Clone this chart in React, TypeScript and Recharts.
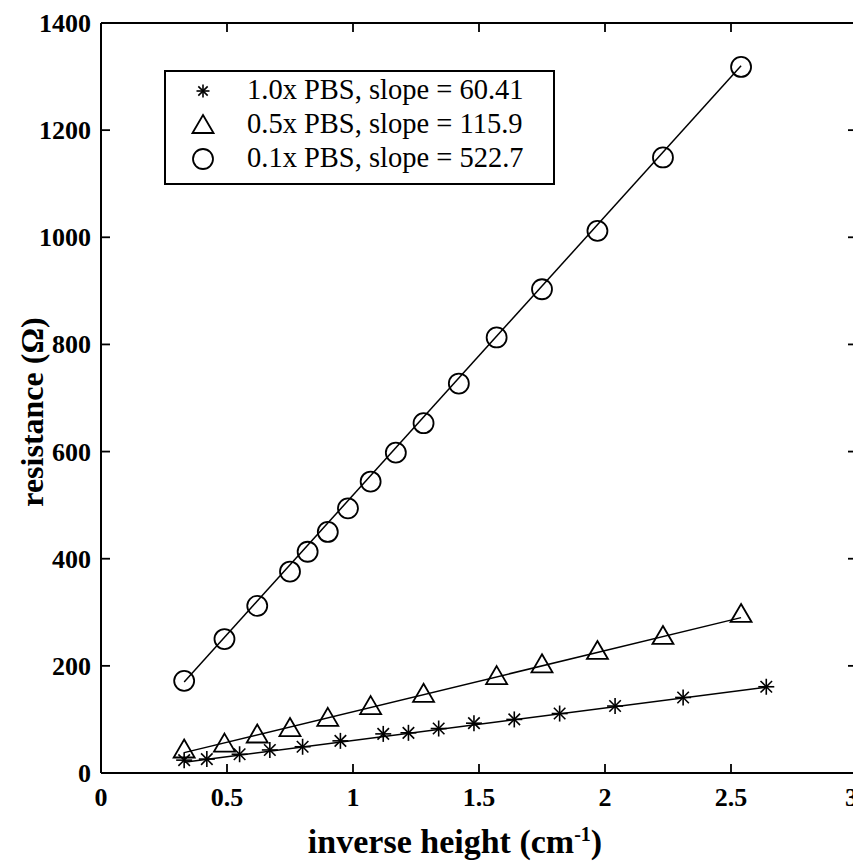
import React from "react";
import {
  ScatterChart,
  Scatter,
  XAxis,
  YAxis,
  ReferenceLine,
  Legend,
} from "recharts";

// values
const pbs10X = [0.33, 0.42, 0.55, 0.67, 0.8, 0.95, 1.12, 1.22, 1.34, 1.48, 1.64, 1.82, 2.04, 2.31, 2.64];
const pbs10Y = [24, 26, 35, 43, 49, 60, 73, 75, 83, 93, 100, 111, 125, 141, 161];

const pbs05X = [0.33, 0.49, 0.62, 0.75, 0.9, 1.07, 1.28, 1.57, 1.75, 1.97, 2.23, 2.54];
const pbs05Y = [42, 53, 70, 82, 101, 123, 146, 179, 201, 226, 254, 295];

const pbs01X = [0.33, 0.49, 0.62, 0.75, 0.82, 0.9, 0.98, 1.07, 1.17, 1.28, 1.42, 1.57, 1.75, 1.97, 2.23, 2.54];
const pbs01Y = [172, 250, 312, 376, 413, 450, 494, 544, 598, 653, 727, 813, 903, 1012, 1149, 1318];

// fitted line end points
const fit10 = [{ x: 0.33, y: 20 }, { x: 2.64, y: 160 }];
const fit05 = [{ x: 0.33, y: 38 }, { x: 2.54, y: 290 }];
const fit01 = [{ x: 0.33, y: 170 }, { x: 2.54, y: 1320 }];

const xTicks = [0, 0.5, 1, 1.5, 2, 2.5, 3];
const yTicks = [0, 200, 400, 600, 800, 1000, 1200, 1400];

const legendLabels = [
  "1.0x PBS, slope = 60.41",
  "0.5x PBS, slope = 115.9",
  "0.1x PBS, slope = 522.7",
];

const toPoints = (xs: number[], ys: number[]) => xs.map((x, i) => ({ x, y: ys[i] }));

const W = 853;
const H = 855;
const M = { top: 15, right: 4, left: 33, bottom: 60 };
const Y_AXIS_W = 60;
const X_AXIS_H = 30;
const PLOT_W = W - M.left - M.right - Y_AXIS_W;
const PLOT_H = H - M.top - M.bottom - X_AXIS_H;
const FONT = "Liberation Serif, Times New Roman, serif";
const TICK_LEN = 9;

const Star = ({ cx, cy, r = 8 }: any) => {
  const d = r * 0.72;
  return (
    <g stroke="#000" strokeWidth={1.6}>
      <line x1={cx} y1={cy - r} x2={cx} y2={cy + r} />
      <line x1={cx - r} y1={cy} x2={cx + r} y2={cy} />
      <line x1={cx - d} y1={cy - d} x2={cx + d} y2={cy + d} />
      <line x1={cx - d} y1={cy + d} x2={cx + d} y2={cy - d} />
    </g>
  );
};

const Tri = ({ cx, cy }: any) => (
  <path
    d={`M${cx},${cy - 11} L${cx + 10.5},${cy + 7} L${cx - 10.5},${cy + 7} Z`}
    fill="none"
    stroke="#000"
    strokeWidth={1.8}
  />
);

const Ring = ({ cx, cy }: any) => (
  <circle cx={cx} cy={cy} r={10} fill="none" stroke="#000" strokeWidth={1.8} />
);

const Nothing = () => <g />;

const XTick = ({ x, y, payload }: any) => {
  const v = payload.value;
  const inner = v !== 0 && v !== 3;
  const last = v === 3;
  return (
    <g>
      {inner && <line x1={x} y1={y} x2={x} y2={y - TICK_LEN} stroke="#000" strokeWidth={1.8} />}
      {inner && (
        <line x1={x} y1={y - PLOT_H} x2={x} y2={y - PLOT_H + TICK_LEN} stroke="#000" strokeWidth={1.8} />
      )}
      <text
        x={last ? x + 1 : x}
        y={y + 33}
        textAnchor={last ? "end" : "middle"}
        style={{ fontFamily: FONT, fontWeight: 700, fontSize: 26 }}
        fill="#000"
      >
        {v}
      </text>
    </g>
  );
};

const YTick = ({ x, y, payload }: any) => {
  const v = payload.value;
  const inner = v !== 0 && v !== 1400;
  return (
    <g>
      {inner && <line x1={x} y1={y} x2={x + TICK_LEN} y2={y} stroke="#000" strokeWidth={1.8} />}
      {inner && (
        <line x1={x + PLOT_W} y1={y} x2={x + PLOT_W - TICK_LEN} y2={y} stroke="#000" strokeWidth={1.8} />
      )}
      <text
        x={x - 10}
        y={y + 9}
        textAnchor="end"
        style={{ fontFamily: FONT, fontWeight: 700, fontSize: 26 }}
        fill="#000"
      >
        {v}
      </text>
    </g>
  );
};

const LegendBox = () => {
  const marks = [
    <Star cx={12} cy={12} r={6.5} />,
    <Tri cx={12} cy={13} />,
    <Ring cx={12} cy={12} />,
  ];
  return (
    <div
      style={{
        position: "relative",
        width: 391,
        height: 115,
        boxSizing: "border-box",
        border: "2px solid #000",
        background: "#fff",
        fontFamily: FONT,
        fontSize: 28.5,
        lineHeight: "28px",
        color: "#000",
      }}
    >
      {legendLabels.map((label, i) => (
        <React.Fragment key={label}>
          <svg
            width={24}
            height={24}
            style={{ position: "absolute", left: 25, top: 7 + i * 34 }}
          >
            {marks[i]}
          </svg>
          <div style={{ position: "absolute", left: 81, top: 4 + i * 34, whiteSpace: "nowrap" }}>
            {label}
          </div>
        </React.Fragment>
      ))}
    </div>
  );
};

export default function App() {
  return (
    <div style={{ position: "relative", width: W, height: H, background: "#fff" }}>
      <ScatterChart width={W} height={H} margin={M}>
        <XAxis
          type="number"
          dataKey="x"
          domain={[0, 3]}
          ticks={xTicks}
          height={X_AXIS_H}
          tickSize={0}
          tickMargin={0}
          tickLine={false}
          axisLine={{ stroke: "#000", strokeWidth: 2 }}
          tick={<XTick />}
          interval={0}
        />
        <YAxis
          type="number"
          dataKey="y"
          domain={[0, 1400]}
          ticks={yTicks}
          width={Y_AXIS_W}
          tickSize={0}
          tickMargin={0}
          tickLine={false}
          axisLine={{ stroke: "#000", strokeWidth: 2 }}
          tick={<YTick />}
          interval={0}
        />
        <ReferenceLine x={3} stroke="#000" strokeWidth={2} />
        <ReferenceLine y={1400} stroke="#000" strokeWidth={2} />
        <Legend
          layout="horizontal"
          verticalAlign="middle"
          align="center"
          content={<LegendBox />}
          wrapperStyle={{ left: 156, top: 62, width: 391, height: 115 }}
        />
        <Scatter data={fit10} line={{ stroke: "#000", strokeWidth: 1.5 }} shape={<Nothing />} legendType="none" isAnimationActive={false} />
        <Scatter data={fit05} line={{ stroke: "#000", strokeWidth: 1.5 }} shape={<Nothing />} legendType="none" isAnimationActive={false} />
        <Scatter data={fit01} line={{ stroke: "#000", strokeWidth: 1.5 }} shape={<Nothing />} legendType="none" isAnimationActive={false} />
        <Scatter name="1.0x PBS" data={toPoints(pbs10X, pbs10Y)} shape={<Star />} isAnimationActive={false} />
        <Scatter name="0.5x PBS" data={toPoints(pbs05X, pbs05Y)} shape={<Tri />} isAnimationActive={false} />
        <Scatter name="0.1x PBS" data={toPoints(pbs01X, pbs01Y)} shape={<Ring />} isAnimationActive={false} />
      </ScatterChart>
      <div
        style={{
          position: "absolute",
          left: 147,
          top: 817,
          width: 600,
          textAlign: "center",
          fontFamily: FONT,
          fontWeight: "bold",
          fontSize: 34,
          lineHeight: "34px",
          whiteSpace: "nowrap",
        }}
      >
        inverse height (cm<sup style={{ fontSize: 20, lineHeight: 0 }}>-1</sup>)
      </div>
      <div
        style={{
          position: "absolute",
          left: 24 - 150,
          top: 404 - 16,
          width: 300,
          height: 32,
          textAlign: "center",
          fontFamily: FONT,
          fontWeight: "bold",
          fontSize: 32,
          lineHeight: "32px",
          whiteSpace: "nowrap",
          transform: "rotate(-90deg)",
        }}
      >
        resistance (Ω)
      </div>
    </div>
  );
}
